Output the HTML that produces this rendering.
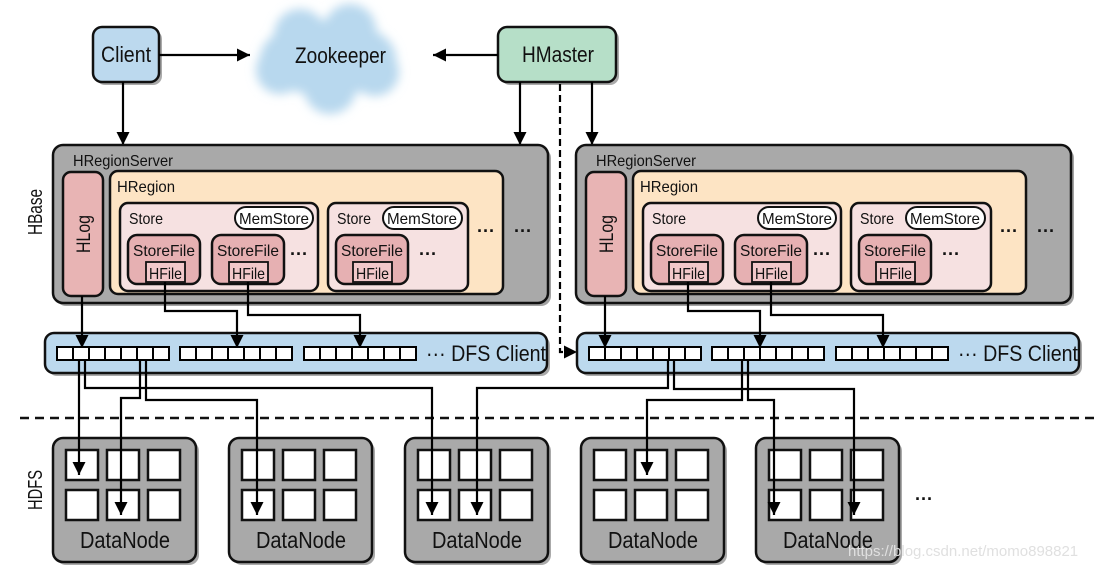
<!DOCTYPE html>
<html><head><meta charset="utf-8"><style>
html,body{margin:0;padding:0;background:#fff;}
svg{display:block;}
text{font-family:"Liberation Sans",sans-serif;fill:#111;}
</style></head><body>
<svg width="1098" height="570" viewBox="0 0 1098 570" xmlns="http://www.w3.org/2000/svg">
<defs>
<marker id="b" viewBox="0 0 10 10" refX="10" refY="5" markerWidth="14" markerHeight="13" orient="auto" markerUnits="userSpaceOnUse"><path d="M0,0 L10,5 L0,10 z" fill="#000"/></marker>
<filter id="bl"><feGaussianBlur stdDeviation="5"/></filter>
<g id="sq7">
<rect x="0" y="0" width="16" height="13" fill="#fff" stroke="#000" stroke-width="2"/><rect x="16" y="0" width="16" height="13" fill="#fff" stroke="#000" stroke-width="2"/><rect x="32" y="0" width="16" height="13" fill="#fff" stroke="#000" stroke-width="2"/><rect x="48" y="0" width="16" height="13" fill="#fff" stroke="#000" stroke-width="2"/><rect x="64" y="0" width="16" height="13" fill="#fff" stroke="#000" stroke-width="2"/><rect x="80" y="0" width="16" height="13" fill="#fff" stroke="#000" stroke-width="2"/><rect x="96" y="0" width="16" height="13" fill="#fff" stroke="#000" stroke-width="2"/>
</g>
<g id="dfs">
<rect x="3" y="3" width="502" height="40" rx="9" fill="#555" opacity=".5"/>
<rect x="0" y="0" width="502" height="40" rx="9" fill="#bcd9ee" stroke="#111" stroke-width="2.5"/>
<use href="#sq7" x="12" y="14"/><use href="#sq7" x="135" y="14"/><use href="#sq7" x="259" y="14"/>
<text x="381" y="28" font-size="22" textLength="120" lengthAdjust="spacingAndGlyphs">··· DFS Client</text>
</g>
<g id="srv">
<rect x="3" y="3" width="495" height="158" rx="10" fill="#666" opacity=".6"/>
<rect x="0" y="0" width="495" height="158" rx="10" fill="#a9a9a9" stroke="#111" stroke-width="2.5"/>
<text x="20" y="21" font-size="16" textLength="100" lengthAdjust="spacingAndGlyphs">HRegionServer</text>
<rect x="10" y="27" width="40" height="124" rx="8" fill="#e8b4b4" stroke="#111" stroke-width="2.5"/>
<text transform="translate(37,89) rotate(-90)" font-size="19" text-anchor="middle" textLength="38" lengthAdjust="spacingAndGlyphs">HLog</text>
<rect x="57" y="26" width="393" height="123" rx="8" fill="#fde4c4" stroke="#111" stroke-width="2.5"/>
<text x="64" y="47" font-size="16" textLength="58" lengthAdjust="spacingAndGlyphs">HRegion</text>
<rect x="67" y="58" width="198" height="88" rx="8" fill="#f6e1e1" stroke="#111" stroke-width="2.5"/>
<text x="76" y="79" font-size="16" textLength="34" lengthAdjust="spacingAndGlyphs">Store</text>
<rect x="182" y="62" width="78" height="22" rx="11" fill="#fff" stroke="#111" stroke-width="2"/>
<text x="186" y="79" font-size="16" textLength="70" lengthAdjust="spacingAndGlyphs">MemStore</text>
<rect x="75" y="90" width="72" height="49" rx="9" fill="#e6b0b2" stroke="#111" stroke-width="2.5"/>
<text x="80" y="111" font-size="16" textLength="62" lengthAdjust="spacingAndGlyphs">StoreFile</text>
<rect x="93" y="117" width="39" height="20" fill="#f2c8ca" stroke="#111" stroke-width="1.8"/>
<text x="96" y="134" font-size="16" textLength="33" lengthAdjust="spacingAndGlyphs">HFile</text>
<rect x="159" y="90" width="72" height="49" rx="9" fill="#e6b0b2" stroke="#111" stroke-width="2.5"/>
<text x="164" y="111" font-size="16" textLength="62" lengthAdjust="spacingAndGlyphs">StoreFile</text>
<rect x="176" y="117" width="39" height="20" fill="#f2c8ca" stroke="#111" stroke-width="1.8"/>
<text x="179" y="134" font-size="16" textLength="33" lengthAdjust="spacingAndGlyphs">HFile</text>
<text x="237" y="115" font-size="18" font-weight="bold">···</text>
<rect x="275" y="58" width="140" height="88" rx="8" fill="#f6e1e1" stroke="#111" stroke-width="2.5"/>
<text x="284" y="79" font-size="16" textLength="34" lengthAdjust="spacingAndGlyphs">Store</text>
<rect x="330" y="62" width="79" height="22" rx="11" fill="#fff" stroke="#111" stroke-width="2"/>
<text x="334" y="79" font-size="16" textLength="70" lengthAdjust="spacingAndGlyphs">MemStore</text>
<rect x="283" y="90" width="72" height="49" rx="9" fill="#e6b0b2" stroke="#111" stroke-width="2.5"/>
<text x="288" y="111" font-size="16" textLength="62" lengthAdjust="spacingAndGlyphs">StoreFile</text>
<rect x="300" y="117" width="39" height="20" fill="#f2c8ca" stroke="#111" stroke-width="1.8"/>
<text x="303" y="134" font-size="16" textLength="33" lengthAdjust="spacingAndGlyphs">HFile</text>
<text x="366" y="115" font-size="18" font-weight="bold">···</text>
<text x="424" y="92" font-size="18" font-weight="bold">···</text>
<text x="461" y="92" font-size="18" font-weight="bold">···</text>
</g>
<g id="arr">
<g stroke="#000" stroke-width="2.2" fill="none">
<path d="M29,151 V203" marker-end="url(#b)"/>
<path d="M112,137 V166 H184 V203" marker-end="url(#b)"/>
<path d="M195,137 V170 H307 V203" marker-end="url(#b)"/>
</g>
</g>
<g id="dn">
<rect x="3" y="3" width="143" height="124" rx="10" fill="#555" opacity=".5"/>
<rect x="0" y="0" width="143" height="124" rx="10" fill="#a9a9a9" stroke="#111" stroke-width="2.5"/>
<g fill="#fff" stroke="#111" stroke-width="2.5">
<rect x="13" y="12" width="32" height="30"/><rect x="54" y="12" width="32" height="30"/><rect x="95" y="12" width="32" height="30"/>
<rect x="13" y="52" width="32" height="30"/><rect x="54" y="52" width="32" height="30"/><rect x="95" y="52" width="32" height="30"/>
</g>
<text x="27" y="110" font-size="23" textLength="90" lengthAdjust="spacingAndGlyphs">DataNode</text>
</g>
</defs>

<g fill="#b8d8ee" filter="url(#bl)">
<ellipse cx="328" cy="58" rx="68" ry="38"/>
<circle cx="300" cy="35" r="26"/><circle cx="350" cy="30" r="26"/><circle cx="280" cy="70" r="24"/><circle cx="330" cy="88" r="26"/><circle cx="375" cy="72" r="24"/>
</g>
<text x="295" y="63" font-size="22" textLength="91" lengthAdjust="spacingAndGlyphs">Zookeeper</text>

<rect x="96" y="30" width="66" height="55" rx="9" fill="#555" opacity=".5"/>
<rect x="93" y="27" width="66" height="55" rx="9" fill="#bcd9ee" stroke="#111" stroke-width="2.5"/>
<text x="101" y="62" font-size="22" textLength="50" lengthAdjust="spacingAndGlyphs">Client</text>
<rect x="501" y="30" width="118" height="55" rx="9" fill="#555" opacity=".5"/>
<rect x="498" y="27" width="118" height="55" rx="9" fill="#b6dfc8" stroke="#111" stroke-width="2.5"/>
<text x="522" y="62" font-size="22" textLength="72" lengthAdjust="spacingAndGlyphs">HMaster</text>

<g stroke="#000" stroke-width="2.2" fill="none">
<path d="M159,55 H250" marker-end="url(#b)"/>
<path d="M498,55 H433" marker-end="url(#b)"/>
<path d="M123,82 V145" marker-end="url(#b)"/>
<path d="M520,82 V145" marker-end="url(#b)"/>
<path d="M592,82 V145" marker-end="url(#b)"/>
<path d="M560,84 V352 H577" stroke-dasharray="7,4" marker-end="url(#b)"/>
</g>

<use href="#srv" x="53" y="145"/>
<use href="#srv" x="576" y="145"/>
<use href="#dfs" x="45" y="333"/>
<use href="#dfs" x="577" y="333"/>
<use href="#arr" x="53" y="145"/>
<use href="#arr" x="576" y="145"/>

<line x1="20" y1="418" x2="1098" y2="418" stroke="#111" stroke-width="2.5" stroke-dasharray="9,6"/>

<text transform="translate(42,212) rotate(-90)" font-size="20" text-anchor="middle" textLength="46" lengthAdjust="spacingAndGlyphs">HBase</text>
<text transform="translate(42,490) rotate(-90)" font-size="20" text-anchor="middle" textLength="40" lengthAdjust="spacingAndGlyphs">HDFS</text>

<use href="#dn" x="53" y="438"/>
<use href="#dn" x="229" y="438"/>
<use href="#dn" x="405" y="438"/>
<use href="#dn" x="581" y="438"/>
<use href="#dn" x="756" y="438"/>
<text x="915" y="505" font-size="18" font-weight="bold">···</text>

<g stroke="#000" stroke-width="2.2" fill="none">
<path d="M79,360 V475" marker-end="url(#b)"/>
<path d="M85,360 V388 H432 V515" marker-end="url(#b)"/>
<path d="M140,360 V398 H121 V515" marker-end="url(#b)"/>
<path d="M146,360 V400 H257 V515" marker-end="url(#b)"/>
<path d="M668,360 V388 H477 V515" marker-end="url(#b)"/>
<path d="M674,360 V389 H854 V515" marker-end="url(#b)"/>
<path d="M742,360 V400 H647 V475" marker-end="url(#b)"/>
<path d="M748,360 V400 H774 V515" marker-end="url(#b)"/>
</g>
<text x="848" y="556" font-size="15" style="fill:#e0e0e0">https://blog.csdn.net/momo898821</text>
</svg>
</body></html>
